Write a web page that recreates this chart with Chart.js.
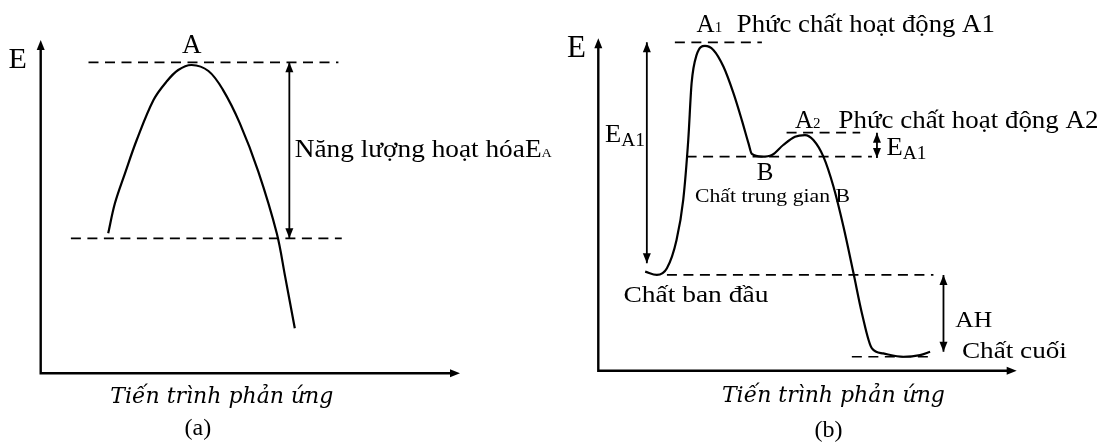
<!DOCTYPE html>
<html>
<head>
<meta charset="utf-8">
<script src="https://cdn.jsdelivr.net/npm/chart.js@4.4.1/dist/chart.umd.min.js"></script>
<style>
  body { margin: 0; background: #fff; width: 1101px; height: 443px; overflow: hidden; display: flex; }
  .panel { position: relative; height: 443px; }
</style>
</head>
<body>
<div class="panel" style="width:560px"><canvas id="chartA"></canvas></div>
<div class="panel" style="width:541px"><canvas id="chartB"></canvas></div>
<script>
// ---- panel (a): one-step reaction ----
const progressA = [16.1, 17.7, 20.1, 22.9, 26.9, 30.0, 32.8, 36.0, 40.0, 43.4, 47.5, 51.9, 56.3, 58.3, 60.6];
const energyA   = [42.0, 51.0, 60.0, 70.0, 82.0, 87.5, 91.0, 92.5, 90.7, 85.2, 75.0, 60.5, 42.0, 29.0, 13.5];
const levelYA    = [93.3, 40.5];
const levelFromA = [11.4, 7.2];
const levelToA   = [71.0, 71.8];
const arrowXA    = [59.3];
const arrowTopA  = [93.3];
const arrowBotA  = [40.5];

// ---- panel (b): two-step reaction with intermediate B ----
const progressB = [11.2, 14.0, 16.4, 18.7, 20.3, 21.5, 22.3, 23.5, 25.5, 27.5, 29.9, 32.3, 34.3, 35.9, 36.7, 39.1,
                   41.5, 44.2, 47.0, 49.4, 51.4, 53.8, 56.2, 58.6, 61.0, 63.0, 65.4, 68.1, 72.9, 76.9, 79.3];
const energyB   = [29.8, 28.8, 30.8, 39.3, 51.4, 69.4, 86.5, 95.0, 97.7, 96.5, 91.5, 83.5, 75.4, 68.4, 65.2, 64.4,
                   64.9, 67.9, 70.4, 70.9, 69.4, 64.4, 55.4, 43.3, 29.3, 17.3, 6.7, 5.2, 4.2, 4.7, 5.7];
const levelYB    = [98.8, 71.6, 64.4, 28.8, 4.2];
const levelFromB = [18.3, 45.0, 21.1, 16.4, 60.6];
const levelToB   = [39.1, 62.6, 65.4, 80.1, 80.1];
const arrowXB    = [11.6, 66.6, 82.5];
const arrowTopB  = [98.8, 71.6, 28.8];
const arrowBotB  = [32.3, 64.0, 5.7];

const SERIF = '"Liberation Serif", "Times New Roman", serif';
const WIDE = '"DejaVu Serif", serif';

// labels: x/y in data units; runs = [text, size, baseline shift, italic, family]; w = width in px on the page
const labelsA = [
  { x: -7.7, y: 91.5, runs: [['E', 30]] },
  { x: 36.0, y: 96.2, align: 'center', runs: [['A', 27]] },
  { x: 60.6, y: 65.0, w: 257, runs: [['Năng lượng hoạt hóa', 25], ['E', 25], ['A', 13]] },
  { x: 43.2, y: -8.9, align: 'center', w: 223, runs: [['Tiến trình phản ứng', 22, 0, true, WIDE]] },
  { x: 37.5, y: -18.5, align: 'center', runs: [['(a)', 24]] }
];
const labelsB = [
  { x: -7.5, y: 94.4, runs: [['E', 31]] },
  { x: 23.5, y: 102.0, runs: [['A', 25], ['1', 15]] },
  { x: 33.1, y: 102.0, w: 258, runs: [['Phức chất hoạt động A1', 25]] },
  { x: 47.0, y: 73.0, runs: [['A', 25], ['2', 15]] },
  { x: 57.4, y: 73.0, w: 260, runs: [['Phức chất hoạt động A2', 25]] },
  { x: 68.9, y: 64.9, w: 40, runs: [['E', 26], ['A1', 19, 4]] },
  { x: 1.6, y: 68.9, w: 40, runs: [['E', 26], ['A1', 19, 4]] },
  { x: 37.9, y: 57.4, runs: [['B', 25]] },
  { x: 23.1, y: 50.9, w: 155, runs: [['Chất trung gian B', 18]] },
  { x: 6.0, y: 20.8, w: 145, runs: [['Chất ban đầu', 24]] },
  { x: 85.3, y: 13.2, w: 37, runs: [['AH', 24]] },
  { x: 86.9, y: 3.7, w: 105, runs: [['Chất cuối', 24]] },
  { x: 56.2, y: -9.3, align: 'center', w: 223, runs: [['Tiến trình phản ứng', 22, 0, true, WIDE]] },
  { x: 55.0, y: -19.8, align: 'center', runs: [['(b)', 24]] }
];

function arrowHead(ctx, x, y, dir) {
  const L = 10, W = 4;
  ctx.beginPath();
  if (dir === 'up') { ctx.moveTo(x, y); ctx.lineTo(x - W, y + L); ctx.lineTo(x + W, y + L); }
  if (dir === 'down') { ctx.moveTo(x, y); ctx.lineTo(x - W, y - L); ctx.lineTo(x + W, y - L); }
  if (dir === 'right') { ctx.moveTo(x, y); ctx.lineTo(x - L, y - W); ctx.lineTo(x - L, y + W); }
  ctx.closePath();
  ctx.fill();
}

function fontOf(r) {
  return (r[3] ? 'italic ' : '') + r[1] + 'px ' + (r[4] || SERIF);
}

const diagramPlugin = {
  id: 'diagram',
  afterDatasetsDraw(chart, args, opts) {
    const ctx = chart.ctx, a = chart.chartArea;
    const xs = chart.scales.x, ys = chart.scales.y;
    ctx.save();
    ctx.strokeStyle = '#000';
    ctx.fillStyle = '#000';
    // axes with arrow tips
    ctx.lineWidth = 2.4;
    ctx.beginPath();
    ctx.moveTo(a.left, a.top + 6);
    ctx.lineTo(a.left, a.bottom);
    ctx.lineTo(a.right - 6, a.bottom);
    ctx.stroke();
    arrowHead(ctx, a.left, a.top, 'up');
    arrowHead(ctx, a.right, a.bottom, 'right');
    // double arrow heads on the energy gaps
    opts.arrowX.forEach((v, i) => {
      const x = xs.getPixelForValue(v);
      arrowHead(ctx, x, ys.getPixelForValue(opts.arrowTop[i]), 'up');
      arrowHead(ctx, x, ys.getPixelForValue(opts.arrowBot[i]), 'down');
    });
    // text (the source glyphs are a little stretched sideways, so wide labels get scaled in x)
    ctx.textBaseline = 'alphabetic';
    opts.labels.forEach(l => {
      let w = 0;
      l.runs.forEach(r => { ctx.font = fontOf(r); w += ctx.measureText(r[0]).width; });
      const sx = l.w ? l.w / w : 1;
      let x = l.align === 'center' ? -w / 2 : 0;
      ctx.save();
      ctx.translate(xs.getPixelForValue(l.x), ys.getPixelForValue(l.y));
      ctx.scale(sx, 1);
      l.runs.forEach(r => {
        ctx.font = fontOf(r);
        ctx.fillText(r[0], x, r[2] || 0);
        x += ctx.measureText(r[0]).width;
      });
      ctx.restore();
    });
    ctx.restore();
  }
};

function buildDatasets(px, py, lvY, lvFrom, lvTo, arX, arTop, arBot, mode) {
  const sets = [{
    data: px.map((x, i) => ({ x, y: py[i] })),
    borderColor: '#000', borderWidth: 2.2, tension: 0.35,
    cubicInterpolationMode: mode, pointRadius: 0, clip: false
  }];
  lvY.forEach((y, i) => sets.push({
    data: [{ x: lvFrom[i], y }, { x: lvTo[i], y }],
    borderColor: '#000', borderWidth: 1.7, borderDash: [10, 6.5], pointRadius: 0, clip: false
  }));
  arX.forEach((x, i) => sets.push({
    data: [{ x, y: arTop[i] }, { x, y: arBot[i] }],
    borderColor: '#000', borderWidth: 1.8, pointRadius: 0, clip: false
  }));
  return sets;
}

function makeChart(id, datasets, padding, extra) {
  return new Chart(document.getElementById(id).getContext('2d'), {
    type: 'line',
    data: { datasets },
    options: {
      responsive: true,
      maintainAspectRatio: false,
      animation: false,
      layout: { padding },
      plugins: { legend: { display: false }, tooltip: { enabled: false }, diagram: extra },
      scales: {
        x: { type: 'linear', min: 0, max: 100, display: false },
        y: { type: 'linear', min: 0, max: 100, display: false }
      }
    },
    plugins: [diagramPlugin]
  });
}

makeChart('chartA',
  buildDatasets(progressA, energyA, levelYA, levelFromA, levelToA, arrowXA, arrowTopA, arrowBotA, 'default'),
  { left: 40.7, right: 100, top: 40, bottom: 69.7 },
  { arrowX: arrowXA, arrowTop: arrowTopA, arrowBot: arrowBotA, labels: labelsA });

makeChart('chartB',
  buildDatasets(progressB, energyB, levelYB, levelFromB, levelToB, arrowXB, arrowTopB, arrowBotB, 'monotone'),
  { left: 38.3, right: 84.3, top: 38.3, bottom: 72.3 },
  { arrowX: arrowXB, arrowTop: arrowTopB, arrowBot: arrowBotB, labels: labelsB });
</script>
</body>
</html>
